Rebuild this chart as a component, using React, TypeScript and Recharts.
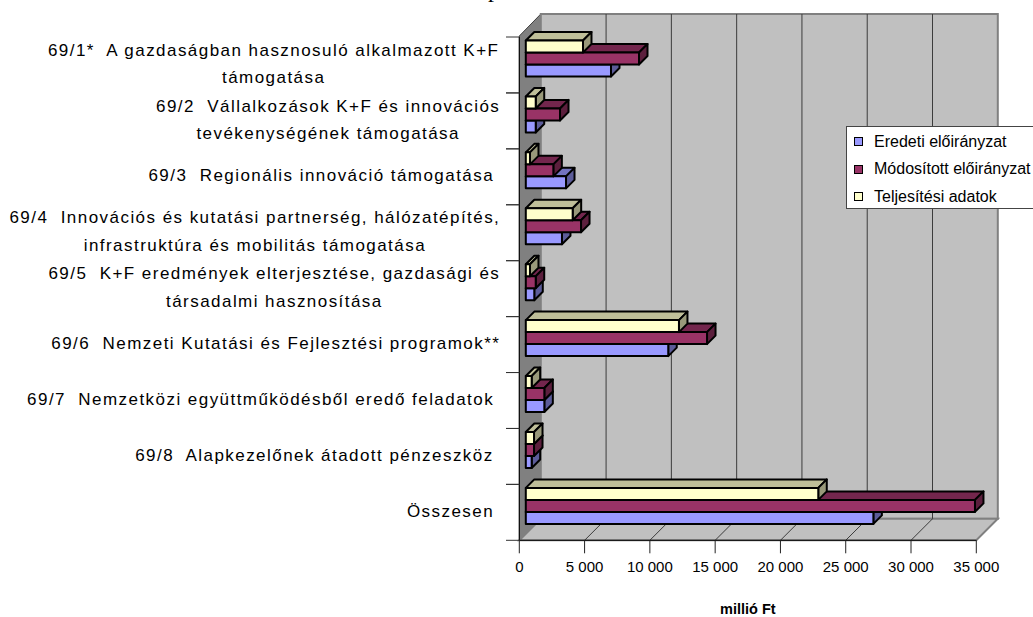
import React from 'react';
import { BarChart, Bar, XAxis, YAxis, CartesianGrid, Label } from 'recharts';

const categories = [
  '69/1*  A gazdaságban hasznosuló alkalmazott K+F\ntámogatása',
  '69/2  Vállalkozások K+F és innovációs\ntevékenységének támogatása',
  '69/3  Regionális innováció támogatása ',
  '69/4  Innovációs és kutatási partnerség, hálózatépítés,\ninfrastruktúra és mobilitás támogatása',
  '69/5  K+F eredmények elterjesztése, gazdasági és\ntársadalmi hasznosítása',
  '69/6  Nemzeti Kutatási és Fejlesztési programok**',
  '69/7  Nemzetközi együttműködésből eredő feladatok ',
  '69/8  Alapkezelőnek átadott pénzeszköz ',
  'Összesen ',
];
const eredeti = [6525, 760, 3080, 2770, 650, 10910, 1420, 450, 26620];
const modositott = [8670, 2620, 2110, 4230, 760, 13880, 1420, 630, 34400];
const teljesites = [4380, 760, 320, 3590, 320, 11730, 450, 630, 22400];
const xTicks = [0, 5000, 10000, 15000, 20000, 25000, 30000, 35000];
const gridTicks = [0, 5000, 10000, 15000, 20000, 25000, 30000];
const legendItems = [
  { name: 'Eredeti előirányzat', color: '#9999ff' },
  { name: 'Módosított előirányzat', color: '#993366' },
  { name: 'Teljesítési adatok', color: '#ffffcc' },
];

const data = categories.map((name, i) => ({
  name,
  eredeti: eredeti[i],
  modositott: modositott[i],
  teljesites: teljesites[i],
}));

const FONT = '"Liberation Sans", Arial, sans-serif';
const LABEL_SIZE = 17;
const LABEL_SPACING = 1.45;

// plot box of the front plane, and how far the walls sit behind it
const LEFT = 519.3;
const RIGHT = 976.3;
const TOP = 37;
const BOTTOM = 540.3;
const WALL = 21.5;
const WALL_TOP = 14;
const BAND = (BOTTOM - TOP) / categories.length;
// bars stand a little way in from the front plane
const BAR_IN = 6.5;
const BAR_DEPTH = 8.5;
const BAR_H = 12;

const ctx: any = document.createElement('canvas').getContext('2d');
ctx.font = `${LABEL_SIZE}px "Liberation Sans"`;
ctx.letterSpacing = `${LABEL_SPACING}px`;

const formatTick = (v: number) => String(v).replace(/\B(?=(\d{3})+$)/g, '\u00a0');

const CategoryTick = ({ x, y, payload }: any) => {
  const lines: string[] = String(payload.value).split('\n');
  const widest = Math.max(...lines.map((l) => ctx.measureText(l).width));
  const cx = x - widest / 2;
  return (
    <g>
      {/* the tick marks sit between the categories, not on them */}
      <line x1={506} x2={LEFT} y1={y - BAND / 2} y2={y - BAND / 2} stroke="#333" />
      <line x1={506} x2={LEFT} y1={y + BAND / 2} y2={y + BAND / 2} stroke="#333" />
      <text
        textAnchor="middle"
        fontFamily={FONT}
        fontSize={LABEL_SIZE}
        letterSpacing={LABEL_SPACING}
        fill="#000"
        xmlSpace="preserve"
        style={{ whiteSpace: 'pre' }}
      >
        {lines.map((l, i) => (
          <tspan key={i} x={cx} y={y - 1.5 + (i - (lines.length - 1) / 2) * 27.5} dy="0.35em">
            {l}
          </tspan>
        ))}
      </text>
    </g>
  );
};

// blue comes first so it paints first, but it belongs at the bottom of the group
const makeBar = (front: string, top: string, side: string, slot: number) => (props: any) => {
  const { x, y, width } = props;
  const x0 = x + BAR_IN;
  const x1 = x0 + width;
  const y0 = y - BAR_IN + slot * BAR_H;
  const y1 = y0 + BAR_H;
  const d = BAR_DEPTH;
  return (
    <g stroke="#000" strokeWidth={2} strokeLinejoin="round">
      <polygon points={`${x0},${y0} ${x0 + d},${y0 - d} ${x1 + d},${y0 - d} ${x1},${y0}`} fill={top} />
      <polygon points={`${x1},${y0} ${x1 + d},${y0 - d} ${x1 + d},${y1 - d} ${x1},${y1}`} fill={side} />
      <rect x={x0} y={y0} width={width} height={BAR_H} fill={front} />
    </g>
  );
};

const Walls = () => (
  <g>
    <polygon
      points={`${LEFT},${TOP - 1} ${LEFT + WALL},${WALL_TOP} ${LEFT + WALL},${BOTTOM - WALL} ${LEFT},${BOTTOM}`}
      fill="#808080"
      stroke="#404040"
      strokeWidth={1}
    />
    <rect
      x={LEFT + WALL}
      y={WALL_TOP}
      width={RIGHT - LEFT}
      height={BOTTOM - WALL - WALL_TOP}
      fill="#c0c0c0"
      stroke="#808080"
      strokeWidth={2}
    />
    <polygon
      points={`${LEFT},${BOTTOM} ${RIGHT},${BOTTOM} ${RIGHT + WALL},${BOTTOM - WALL} ${LEFT + WALL},${BOTTOM - WALL}`}
      fill="#c0c0c0"
      stroke="#808080"
      strokeWidth={2}
    />
  </g>
);

// the grid sits lowest, so the walls go in with its first line
const wallLine = (props: any) => {
  const { x1, index, key } = props;
  if (Math.abs(x1 - LEFT) < 1) return <Walls key={key ?? index} />;
  return (
    <g key={key ?? index} stroke="#3c3c3c" strokeWidth={1}>
      <line x1={x1} y1={BOTTOM} x2={x1 + WALL} y2={BOTTOM - WALL} />
      <line x1={x1 + WALL} y1={BOTTOM - WALL} x2={x1 + WALL} y2={WALL_TOP} />
    </g>
  );
};

const LegendBox = () => (
  <div
    style={{
      position: 'absolute',
      left: 846,
      top: 126,
      width: 200,
      height: 83,
      background: '#fff',
      border: '1px solid #444',
      boxSizing: 'border-box',
      paddingTop: 1,
      fontFamily: FONT,
      fontSize: 16,
      color: '#000',
    }}
  >
    {legendItems.map((p) => (
      <div key={p.name} style={{ display: 'flex', alignItems: 'center', height: 27.5, whiteSpace: 'nowrap' }}>
        <span
          style={{
            width: 7,
            height: 7,
            marginLeft: 7,
            marginRight: 11,
            background: p.color,
            border: '1.5px solid #000',
            boxSizing: 'content-box',
            flex: 'none',
          }}
        />
        {p.name}
      </div>
    ))}
  </div>
);

export default function App() {
  return (
    <div style={{ position: 'absolute', left: 0, top: 0, width: 1033, height: 617, overflow: 'hidden', background: '#fff' }}>
      <BarChart
        width={1033}
        height={617}
        data={data}
        layout="vertical"
        barSize={BAR_H}
        barGap={0}
        margin={{ top: TOP, right: 1033 - RIGHT, bottom: 0, left: LEFT - 500 }}
      >
        <text x={488} y={-3} fontFamily='"Liberation Serif", serif' fontSize={24}>
          p
        </text>
        <CartesianGrid horizontal={false} vertical={wallLine} verticalValues={gridTicks} />
        <XAxis
          type="number"
          domain={[0, 35000]}
          ticks={xTicks}
          interval={0}
          height={617 - BOTTOM}
          tickSize={13}
          tickMargin={8}
          tickFormatter={formatTick}
          tick={{ fill: '#000', fontFamily: FONT, fontSize: 15 }}
          stroke="#000"
          tickLine={{ stroke: '#222' }}
        >
          <Label value="millió Ft" position="insideBottom" offset={3} fontFamily={FONT} fontSize={14.5} fontWeight="bold" fill="#000" />
        </XAxis>
        <YAxis
          type="category"
          dataKey="name"
          width={500}
          interval={0}
          tickLine={false}
          tickSize={11}
          tickMargin={8}
          tick={CategoryTick}
          stroke="#000"
        />
        <Bar name="Eredeti előirányzat" dataKey="eredeti" fill="#9999ff" isAnimationActive={false} shape={makeBar('#9999ff', '#7373bf', '#5c5c99', 2)} />
        <Bar name="Módosított előirányzat" dataKey="modositott" fill="#993366" isAnimationActive={false} shape={makeBar('#993366', '#73264d', '#5c1f3d', 0)} />
        <Bar name="Teljesítési adatok" dataKey="teljesites" fill="#ffffcc" isAnimationActive={false} shape={makeBar('#ffffcc', '#bfbf99', '#99997a', -2)} />
      </BarChart>
      <LegendBox />
    </div>
  );
}
